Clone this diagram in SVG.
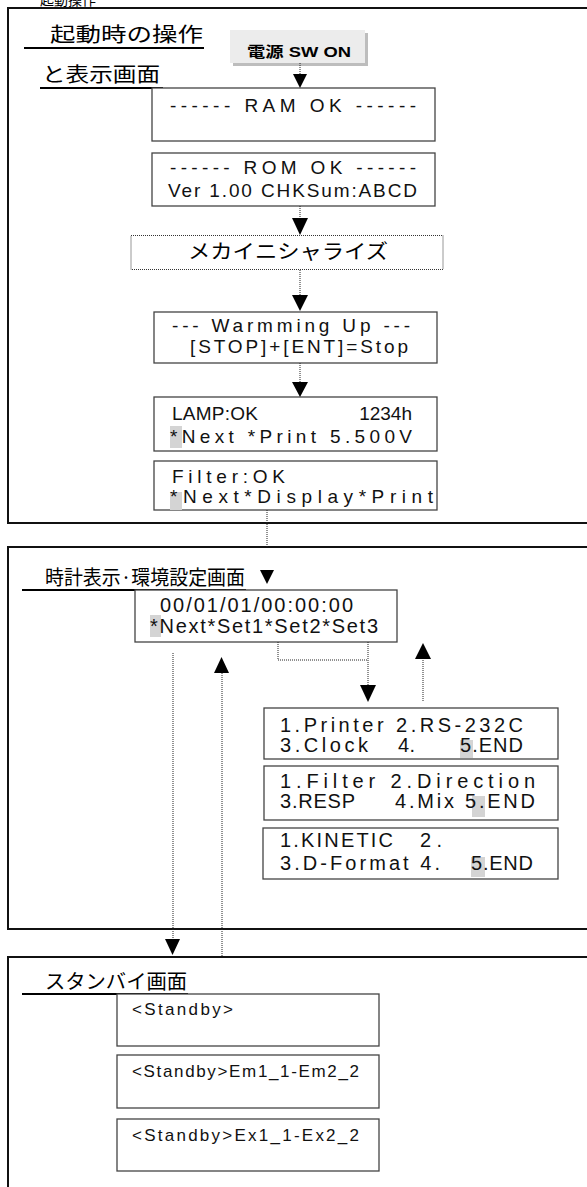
<svg xmlns="http://www.w3.org/2000/svg" width="587" height="1187" viewBox="0 0 587 1187">
<defs>
<style>
.frame{fill:none;stroke:#111;stroke-width:2}
.box{fill:#fff;stroke:#444;stroke-width:1.3}
.dbox{fill:#fff;stroke:#333;stroke-width:1;stroke-dasharray:1 1}
.dot{fill:none;stroke:#222;stroke-width:1;stroke-dasharray:1 1}
.ul{stroke:#000;stroke-width:2}
.jp{font-family:"Noto Sans CJK JP","Noto Sans",sans-serif;fill:#000}
.t{font-family:"Liberation Sans",Arial,sans-serif;fill:#111;font-size:19px}
.tb{font-family:"Liberation Sans",Arial,sans-serif;fill:#111;font-size:20px}
.ts{font-family:"Liberation Sans",Arial,sans-serif;fill:#111;font-size:17px}
.hl{fill:#d4d4d4}
.ah{fill:#000}
</style>
</defs>

<text class="jp" x="40" y="5" font-size="14" textLength="56" lengthAdjust="spacingAndGlyphs">起動操作</text>

<g id="frame-startup">
<rect class="frame" x="8" y="8" width="600" height="515"/>
<text class="jp" x="50" y="42" font-size="20" textLength="153" lengthAdjust="spacingAndGlyphs">起動時の操作</text>
<line class="ul" x1="24" y1="48" x2="204" y2="48"/>
<text class="jp" x="42" y="82" font-size="20" textLength="118" lengthAdjust="spacingAndGlyphs">と表示画面</text>
<line class="ul" x1="40" y1="88" x2="163" y2="88"/>
</g>

<g id="power-sw">
<rect x="233" y="33" width="135" height="33" fill="#bdbdbd"/>
<rect x="230" y="30" width="135" height="33" fill="#ececec"/>
<text x="299" y="57" text-anchor="middle" font-family="'Liberation Sans','Noto Sans CJK JP',sans-serif" font-weight="bold" font-size="15" fill="#000" textLength="104" lengthAdjust="spacingAndGlyphs">電源 SW ON</text>
</g>

<g id="ram-ok">
<rect class="box" x="152" y="88" width="283" height="53"/>
<text class="t" x="170" y="112" textLength="246" lengthAdjust="spacing">------ RAM OK ------</text>
</g>

<g id="rom-ok">
<rect class="box" x="152" y="153" width="283" height="53"/>
<text class="t" x="170" y="174" textLength="246" lengthAdjust="spacing">------ ROM OK ------</text>
<text class="t" x="168" y="197" textLength="249" lengthAdjust="spacing">Ver 1.00 CHKSum:ABCD</text>
</g>

<g id="mechainit">
<rect class="dbox" x="131" y="235.5" width="312" height="34"/>
<text class="jp" x="188" y="259" font-size="20" textLength="200" lengthAdjust="spacingAndGlyphs">メカイニシャライズ</text>
</g>

<g id="warmup">
<rect class="box" x="154" y="312" width="283" height="51"/>
<text class="t" x="172" y="332" textLength="238" lengthAdjust="spacing">--- Warmming Up ---</text>
<text class="t" x="190" y="353" textLength="218" lengthAdjust="spacing">[STOP]+[ENT]=Stop</text>
</g>

<g id="lamp">
<rect class="box" x="154" y="397" width="283" height="54"/>
<rect class="hl" x="170" y="426" width="12" height="22"/>
<text class="t" x="172" y="420" textLength="86" lengthAdjust="spacing">LAMP:OK</text>
<text class="t" x="412" y="420" text-anchor="end">1234h</text>
<text class="t" x="170" y="443" textLength="242" lengthAdjust="spacing">*Next *Print 5.500V</text>
</g>

<g id="filter-ok">
<rect class="box" x="154" y="461" width="283" height="49"/>
<rect class="hl" x="170" y="492" width="12" height="18"/>
<text class="t" x="172" y="483" textLength="113" lengthAdjust="spacing">Filter:OK</text>
<text class="t" x="170" y="503" textLength="263" lengthAdjust="spacing">*Next*Display*Print</text>
</g>

<g id="frame-clock">
<rect class="frame" x="8" y="547" width="600" height="382"/>
<text class="jp" x="45" y="585" font-size="20" textLength="200" lengthAdjust="spacingAndGlyphs">時計表示·環境設定画面</text>
<line class="ul" x1="22" y1="590" x2="246" y2="590"/>
</g>

<g id="clock">
<rect class="box" x="135" y="590" width="262" height="52"/>
<rect class="hl" x="150" y="615" width="11" height="22"/>
<text class="tb" x="160" y="612" textLength="193" lengthAdjust="spacing">00/01/01/00:00:00</text>
<text class="tb" x="150" y="633" textLength="228" lengthAdjust="spacing">*Next*Set1*Set2*Set3</text>
</g>

<g id="set1">
<rect class="box" x="264" y="708" width="294" height="51"/>
<rect class="hl" x="460" y="740" width="13" height="18"/>
<text class="tb" x="280" y="732" textLength="243" lengthAdjust="spacing">1.Printer 2.RS-232C</text>
<text class="tb" x="280" y="752" textLength="88" lengthAdjust="spacing">3.Clock</text>
<text class="tb" x="398" y="752" textLength="17" lengthAdjust="spacing">4.</text>
<text class="tb" x="460" y="752" textLength="63" lengthAdjust="spacing">5.END</text>
</g>

<g id="set2">
<rect class="box" x="264" y="766" width="294" height="54"/>
<rect class="hl" x="472" y="796" width="13" height="21"/>
<text class="tb" x="280" y="788" textLength="255" lengthAdjust="spacing">1.Filter 2.Direction</text>
<text class="tb" x="280" y="808" textLength="75" lengthAdjust="spacing">3.RESP</text>
<text class="tb" x="395" y="808" textLength="140" lengthAdjust="spacing">4.Mix 5.END</text>
</g>

<g id="set3">
<rect class="box" x="263" y="828" width="295" height="51"/>
<rect class="hl" x="471" y="857" width="14" height="20"/>
<text class="tb" x="280" y="847" textLength="113" lengthAdjust="spacing">1.KINETIC</text>
<text class="tb" x="420" y="847" textLength="22" lengthAdjust="spacing">2.</text>
<text class="tb" x="280" y="870" textLength="160" lengthAdjust="spacing">3.D-Format 4.</text>
<text class="tb" x="471" y="870" textLength="62" lengthAdjust="spacing">5.END</text>
</g>

<g id="frame-standby">
<rect class="frame" x="8" y="957" width="600" height="260"/>
<text class="jp" x="45" y="989" font-size="20" textLength="142" lengthAdjust="spacingAndGlyphs">スタンバイ画面</text>
<line class="ul" x1="22" y1="994" x2="188" y2="994"/>
</g>

<g id="standby1">
<rect class="box" x="117" y="994" width="262" height="52"/>
<text class="ts" x="132" y="1015" textLength="101" lengthAdjust="spacing">&lt;Standby&gt;</text>
</g>
<g id="standby2">
<rect class="box" x="117" y="1055" width="262" height="53"/>
<text class="ts" x="132" y="1077" textLength="227" lengthAdjust="spacing">&lt;Standby&gt;Em1_1-Em2_2</text>
</g>
<g id="standby3">
<rect class="box" x="117" y="1119" width="262" height="52"/>
<text class="ts" x="132" y="1141" textLength="227" lengthAdjust="spacing">&lt;Standby&gt;Ex1_1-Ex2_2</text>
</g>

<g id="connectors">
<line class="dot" x1="300" y1="63" x2="300" y2="75"/>
<polygon class="ah" points="293,74 307,74 300,88"/>
<line class="dot" x1="300" y1="206" x2="300" y2="219"/>
<polygon class="ah" points="292,218 308,218 300,235"/>
<line class="dot" x1="300" y1="270" x2="300" y2="296"/>
<polygon class="ah" points="292,295 308,295 300,311"/>
<line class="dot" x1="300" y1="363" x2="300" y2="383"/>
<polygon class="ah" points="292,382 308,382 300,397"/>
<line class="dot" x1="267" y1="510" x2="267" y2="547"/>
<polygon class="ah" points="260,570 274,570 267,584"/>
<polyline class="dot" points="278,642 278,660 368,660"/>
<line class="dot" x1="368" y1="642" x2="368" y2="686"/>
<polygon class="ah" points="360,685 376,685 368,702"/>
<line class="dot" x1="423" y1="658" x2="423" y2="702"/>
<polygon class="ah" points="415,659 431,659 423,643"/>
<line class="dot" x1="173" y1="653" x2="173" y2="940"/>
<polygon class="ah" points="165,939 180,939 172.5,955"/>
<line class="dot" x1="222" y1="673" x2="222" y2="957"/>
<polygon class="ah" points="214,673 229,673 221.5,657"/>
</g>
</svg>
